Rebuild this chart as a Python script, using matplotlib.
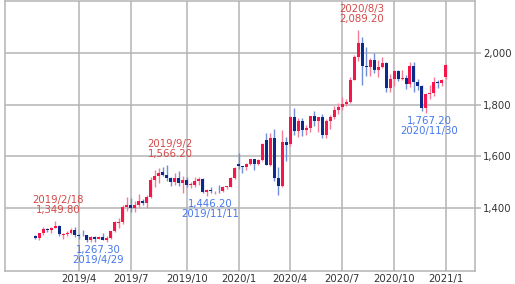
import numpy as np
import pandas as pd
import matplotlib
matplotlib.use("Agg")
import matplotlib.pyplot as plt

# weekly candles, one per week starting 2019/1/14
opens = [1291, 1283, 1302, 1319, 1316, 1323, 1331, 1297, 1299, 1303, 1314,
         1297, 1295, 1294, 1277, 1288, 1281, 1288, 1276, 1285, 1310, 1341,
         1345, 1402, 1413, 1400, 1412, 1426, 1420, 1443, 1509, 1523, 1538,
         1529, 1515, 1499, 1516, 1497, 1507, 1489, 1490, 1505, 1514, 1462,
         1468, 1464, 1466, 1465, 1481, 1483, 1515,
         1570, 1562, 1557, 1571, 1589, 1571, 1584, 1662, 1566, 1672, 1516,
         1484, 1654, 1647, 1752, 1698, 1735, 1700, 1708, 1756, 1735, 1751,
         1683, 1737, 1753, 1780, 1790, 1801, 1810, 1897, 1986, 2038, 1950,
         1945, 1974, 1934, 1947, 1962, 1866, 1900, 1930, 1899, 1902, 1879,
         1951, 1888, 1872, 1788, 1840, 1843, 1888, 1883, 1905]
highs = [1297, 1305, 1326, 1322, 1327, 1349.8, 1335, 1303, 1312, 1324, 1326,
         1300, 1316, 1296, 1290, 1290, 1292, 1303, 1290, 1311, 1348, 1362,
         1411, 1442, 1440, 1428, 1453, 1433, 1450, 1520, 1546, 1555, 1559,
         1566.2, 1520, 1536, 1542, 1522, 1519, 1500, 1518, 1520, 1516, 1474,
         1480, 1467, 1487, 1485, 1485, 1519, 1557,
         1613, 1563, 1575, 1591, 1590, 1588, 1651, 1691, 1692, 1704, 1560,
         1700, 1674, 1755, 1788, 1747, 1747, 1722, 1756, 1775, 1745, 1762,
         1745, 1760, 1796, 1807, 1829, 1823, 1907, 1992, 2089.2, 2063, 2024,
         1981, 2000, 1974, 1984, 1963, 1917, 1933, 1935, 1935, 1915, 1965,
         1966, 1900, 1875, 1844, 1875, 1906, 1897, 1900, 1959]
lows = [1280, 1276, 1297, 1307, 1302, 1322, 1292, 1281, 1290, 1298, 1288,
        1281, 1290, 1270, 1268.5, 1267.3, 1279, 1275, 1270, 1280, 1308, 1322,
        1338, 1389, 1383, 1386, 1404, 1411, 1400, 1440, 1480, 1498, 1525,
        1505, 1485, 1490, 1485, 1459, 1482, 1478, 1483, 1487, 1456, 1446.2,
        1458, 1454, 1458, 1462, 1475, 1480, 1514,
        1549, 1536, 1547, 1565, 1548, 1565, 1581, 1565, 1563, 1506, 1451,
        1482, 1580, 1641, 1681, 1675, 1677, 1683, 1693, 1717, 1694, 1671,
        1671, 1705, 1746, 1762, 1779, 1796, 1807, 1896, 1968, 1874, 1911,
        1911, 1923, 1906, 1941, 1850, 1849, 1873, 1890, 1895, 1859, 1870,
        1848, 1855, 1775, 1767.2, 1823, 1832, 1865, 1873, 1900]
closes = [1282, 1303, 1319, 1316, 1322, 1331, 1299, 1300, 1303, 1314, 1295,
          1293, 1294, 1276, 1288, 1280, 1287, 1276, 1285, 1310, 1346, 1345,
          1405, 1413, 1400, 1412, 1426, 1419, 1443, 1508, 1523, 1537, 1529,
          1515, 1499, 1515, 1497, 1507, 1489, 1490, 1505, 1514, 1462, 1468,
          1464, 1466, 1464, 1481, 1483, 1515, 1553,
          1562, 1557, 1571, 1589, 1571, 1584, 1649, 1566, 1672, 1516, 1484,
          1654, 1645, 1752, 1698, 1735, 1700, 1708, 1756, 1735, 1751, 1683,
          1737, 1753, 1780, 1790, 1801, 1810, 1897, 1986, 2038, 1950, 1944,
          1974, 1934, 1947, 1962, 1866, 1900, 1930, 1899, 1902, 1879, 1951,
          1888, 1872, 1788, 1840, 1843, 1888, 1883, 1895, 1954]

weeks = pd.date_range("2019-01-14", periods=len(closes), freq="7D")

# marked highs / lows: (week, kind)
marks = [("2019-02-18", "high"), ("2019-04-29", "low"),
         ("2019-09-02", "high"), ("2019-11-11", "low"),
         ("2020-08-03", "high"), ("2020-11-30", "low")]

UP, DOWN = "#f5174c", "#0b2a8c"
UP_WICK, DOWN_WICK = "#f57c98", "#6f8fd6"
HIGH_TXT, LOW_TXT = "#d44848", "#4677ec"
GRID = "#b4b4b4"

o = np.array(opens, float)
h = np.array(highs, float)
l = np.array(lows, float)
c = np.array(closes, float)
x = np.arange(len(c))
up = c >= o

fig = plt.figure(figsize=(5.15, 2.84), dpi=100)
ax = fig.add_axes([5 / 515, 13 / 284, 470 / 515, 270 / 284])

ax.vlines(x[up], l[up], h[up], color=UP_WICK, lw=1.0, zorder=2)
ax.vlines(x[~up], l[~up], h[~up], color=DOWN_WICK, lw=1.0, zorder=2)
body = np.maximum(np.abs(c - o), 2.5)
bottom = np.minimum(o, c)
ax.bar(x[up], body[up], bottom=bottom[up], width=0.75, color=UP, lw=0, zorder=3)
ax.bar(x[~up], body[~up], bottom=bottom[~up], width=0.75, color=DOWN, lw=0, zorder=3)

for day, kind in marks:
    i = int(np.where(weeks == pd.Timestamp(day))[0][0])
    date_txt = f"{weeks[i].year}/{weeks[i].month}/{weeks[i].day}"
    if kind == "high":
        ax.text(i + 0.8, h[i] + 22, f"{date_txt}\n{h[i]:,.2f}", color=HIGH_TXT,
                fontsize=7.3, ha="center", va="bottom", linespacing=1.05)
    else:
        ax.text(i + 0.8, l[i] - 10, f"{l[i]:,.2f}\n{date_txt}", color=LOW_TXT,
                fontsize=7.3, ha="center", va="top", linespacing=1.05)

# quarter ticks on first week of Jan/Apr/Jul/Oct
tick_pos, tick_lab = [], []
for i in range(1, len(weeks)):
    if weeks[i].month != weeks[i - 1].month and weeks[i].month in (1, 4, 7, 10):
        tick_pos.append(i)
        tick_lab.append(f"{weeks[i].year}/{weeks[i].month}")
ax.set_xticks(tick_pos, tick_lab)
ax.set_xlim(-7.55, 110.3)
ax.set_ylim(1156, 2201)
ax.set_yticks([1400, 1600, 1800, 2000])
ax.yaxis.set_major_formatter(matplotlib.ticker.FuncFormatter(lambda v, p: f"{v:,.0f}"))
ax.yaxis.tick_right()

ax.grid(True, color=GRID, lw=1.1)
ax.set_axisbelow(True)
ax.tick_params(axis="both", labelsize=7.3, labelcolor="#333333", color=GRID, width=1.1)
ax.tick_params(axis="y", length=4, pad=2)
ax.tick_params(axis="x", length=0, pad=2)
for s in ax.spines.values():
    s.set_color(GRID)
    s.set_linewidth(1.1)

fig.savefig("out.png", dpi=100)
